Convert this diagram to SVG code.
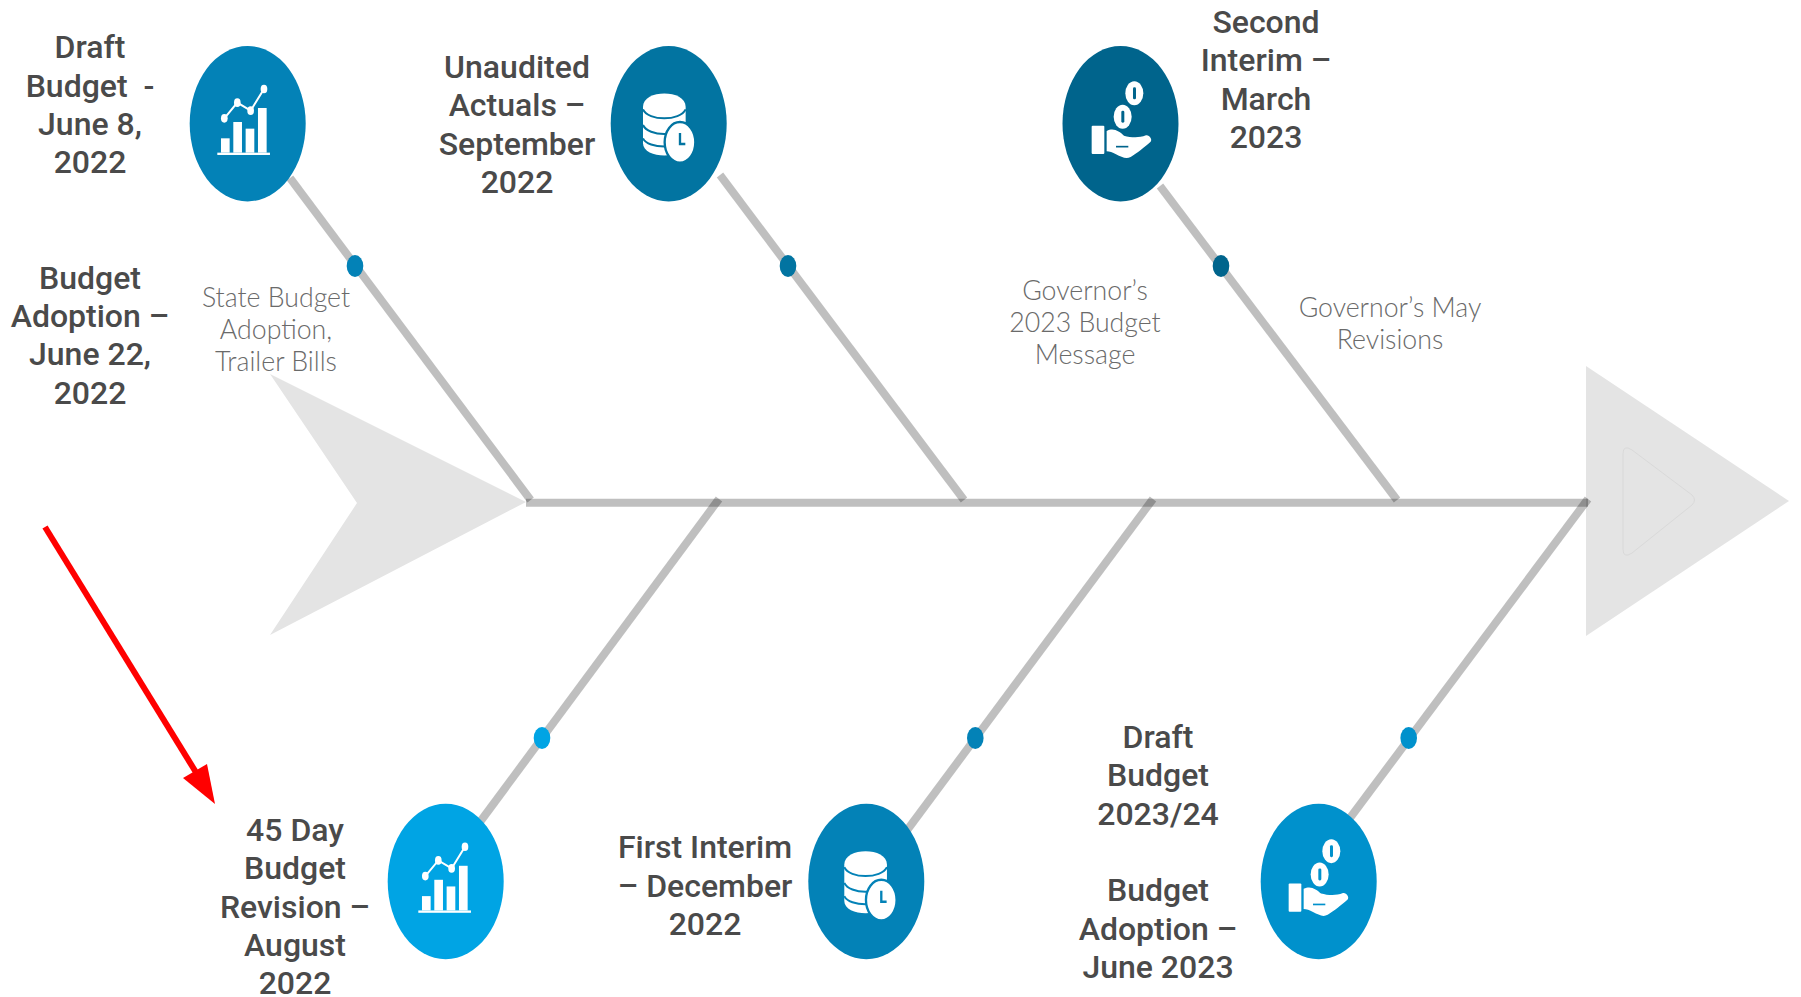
<svg xmlns="http://www.w3.org/2000/svg" width="1801" height="997" viewBox="0 0 1801 997">
<style>
.t{font-family:Roboto,"Liberation Sans",sans-serif;font-weight:500;font-size:32px;fill:#4a4a4a;text-anchor:middle;white-space:pre}
.g{font-family:Lato,"Liberation Sans",sans-serif;font-weight:300;font-size:26.7px;fill:#6a6a6a;text-anchor:middle}
.bone{stroke:#000;stroke-opacity:.25;stroke-width:8;fill:none}
.w{fill:#fff}
</style>
<defs>
<g id="chart"><g transform="translate(-247.7,-123.7) scale(.3333)" class="w">
<rect x="652" y="458" width="158" height="7"/><rect x="663" y="415" width="26" height="43"/><rect x="700" y="366" width="26" height="92"/><rect x="737" y="386" width="26" height="72"/><rect x="774" y="324" width="26" height="134"/>
<path d="M673 355L712 308L752 332L792 267" fill="none" stroke="#fff" stroke-width="6"/>
<ellipse cx="673" cy="355" rx="10" ry="13"/><ellipse cx="712" cy="308" rx="10" ry="13"/><ellipse cx="752" cy="332" rx="10" ry="13"/><ellipse cx="792" cy="267" rx="10" ry="13"/>
</g></g>
<g id="db"><g transform="translate(-88.7,-93.7) scale(.3333)">
<path class="w" d="M189 230C189 177 317 177 317 230V340C317 389 189 389 189 340Z"/>
<g fill="none" stroke="currentColor" stroke-width="6"><path d="M189 238C205 274 300 274 317 238"/><path d="M189 285C205 321 300 321 317 285"/><path d="M189 325C205 358 300 358 317 325"/></g>
<ellipse cx="300" cy="337" rx="46" ry="61" class="w" stroke="currentColor" stroke-width="7"/>
<path d="M300 309V342H316" fill="none" stroke="currentColor" stroke-width="7"/>
</g></g>
<g id="hand"><g transform="translate(-80.5,-93.7) scale(.3333)">
<ellipse cx="283" cy="190" rx="27" ry="36" class="w"/><ellipse cx="248" cy="260" rx="27" ry="36" class="w"/>
<rect x="279" y="172" width="9" height="36" rx="4" fill="currentColor"/><rect x="244" y="242" width="9" height="36" rx="4" fill="currentColor"/>
<rect x="155" y="287" width="38" height="85" rx="3" class="w"/>
<path class="w" d="M200 303C222 292 238 305 252 317C272 322 295 325 318 316C328 314 338 328 332 335C315 350 290 370 272 381C258 389 245 381 228 373C218 368 208 364 200 364Z"/>
<path d="M228 350H265" stroke="currentColor" stroke-width="5" fill="none"/>
</g></g>
</defs>
<g id="shapes">
<polygon points="270,374 526,502 270,635 357,503" fill="#e4e4e4"/>
<polygon points="1586,366 1789,501 1586,636" fill="#e4e4e4"/>
<path d="M1623,454Q1623,444 1632,450L1692,495Q1697,500 1692,505L1632,553Q1623,559 1623,549Z" fill="none" stroke="#d4d4d4" stroke-width=".7"/>
</g>
<g id="connectors">
<path class="bone" d="M526 502.7H1588"/>
<path class="bone" d="M290 178L530.6 500"/>
<path class="bone" d="M720 175L964 500"/>
<path class="bone" d="M1160 186L1397 500"/>
<path class="bone" d="M719 499L477 826"/>
<path class="bone" d="M1153 499L905 833"/>
<path class="bone" d="M1588 499L1344 826"/>
<g fill="#ff0000"><path d="M45 527L197 774" stroke="#ff0000" stroke-width="6" fill="none"/><polygon points="183,778 207,764 215,804"/></g>
</g>
<g id="n1" style="color:#0382b7"><ellipse cx="247.7" cy="123.7" rx="58" ry="77.7" fill="currentColor"/><use href="#chart" x="247.7" y="123.7"/><ellipse cx="355" cy="266" rx="8.3" ry="11" fill="currentColor"/>
<text class="t" x="90"><tspan x="90" y="58">Draft</tspan><tspan x="90" y="97">Budget  -</tspan><tspan x="90" y="135">June 8,</tspan><tspan x="90" y="173">2022</tspan></text>
<text class="t"><tspan x="90" y="289">Budget</tspan><tspan x="90" y="327">Adoption –</tspan><tspan x="90" y="365">June 22,</tspan><tspan x="90" y="404">2022</tspan></text>
<text class="g"><tspan x="276" y="307">State Budget</tspan><tspan x="276" y="339">Adoption,</tspan><tspan x="276" y="371">Trailer Bills</tspan></text></g>
<g id="n2" style="color:#0274a1"><ellipse cx="668.7" cy="123.7" rx="58" ry="77.7" fill="currentColor"/><use href="#db" x="668.7" y="123.7"/><ellipse cx="788" cy="266" rx="8.3" ry="11" fill="currentColor"/>
<text class="t"><tspan x="517" y="78">Unaudited</tspan><tspan x="517" y="116">Actuals –</tspan><tspan x="517" y="155">September</tspan><tspan x="517" y="193">2022</tspan></text>
<text class="g"><tspan x="1085" y="300">Governor’s</tspan><tspan x="1085" y="332">2023 Budget</tspan><tspan x="1085" y="364">Message</tspan></text></g>
<g id="n3" style="color:#00648c"><ellipse cx="1120.5" cy="123.7" rx="58" ry="77.7" fill="currentColor"/><use href="#hand" x="1120.5" y="123.7"/><ellipse cx="1221" cy="266" rx="8.3" ry="11" fill="currentColor"/>
<text class="t"><tspan x="1266" y="33">Second</tspan><tspan x="1266" y="71">Interim –</tspan><tspan x="1266" y="110">March</tspan><tspan x="1266" y="148">2023</tspan></text>
<text class="g"><tspan x="1390" y="317">Governor’s May</tspan><tspan x="1390" y="349">Revisions</tspan></text></g>
<g id="n4" style="color:#00a4e4"><ellipse cx="445.7" cy="881.5" rx="58" ry="77.7" fill="currentColor"/><use href="#chart" x="448.7" y="881.5"/><ellipse cx="542" cy="738" rx="8.3" ry="11" fill="currentColor"/>
<text class="t"><tspan x="295" y="841">45 Day</tspan><tspan x="295" y="879">Budget</tspan><tspan x="295" y="918">Revision –</tspan><tspan x="295" y="956">August</tspan><tspan x="295" y="994">2022</tspan></text></g>
<g id="n5" style="color:#0382b7"><ellipse cx="866.3" cy="881.5" rx="58" ry="77.7" fill="currentColor"/><use href="#db" x="870" y="881.5"/><ellipse cx="975.3" cy="738" rx="8.3" ry="11" fill="currentColor"/>
<text class="t"><tspan x="705" y="858">First Interim</tspan><tspan x="705" y="897">– December</tspan><tspan x="705" y="935">2022</tspan></text></g>
<g id="n6" style="color:#0091cc"><ellipse cx="1318.7" cy="881.5" rx="58" ry="77.7" fill="currentColor"/><use href="#hand" x="1317.5" y="881.5"/><ellipse cx="1408.7" cy="738" rx="8.3" ry="11" fill="currentColor"/>
<text class="t"><tspan x="1158" y="748">Draft</tspan><tspan x="1158" y="786">Budget</tspan><tspan x="1158" y="825">2023/24</tspan></text>
<text class="t"><tspan x="1158" y="901">Budget</tspan><tspan x="1158" y="940">Adoption –</tspan><tspan x="1158" y="978">June 2023</tspan></text></g>
</svg>
